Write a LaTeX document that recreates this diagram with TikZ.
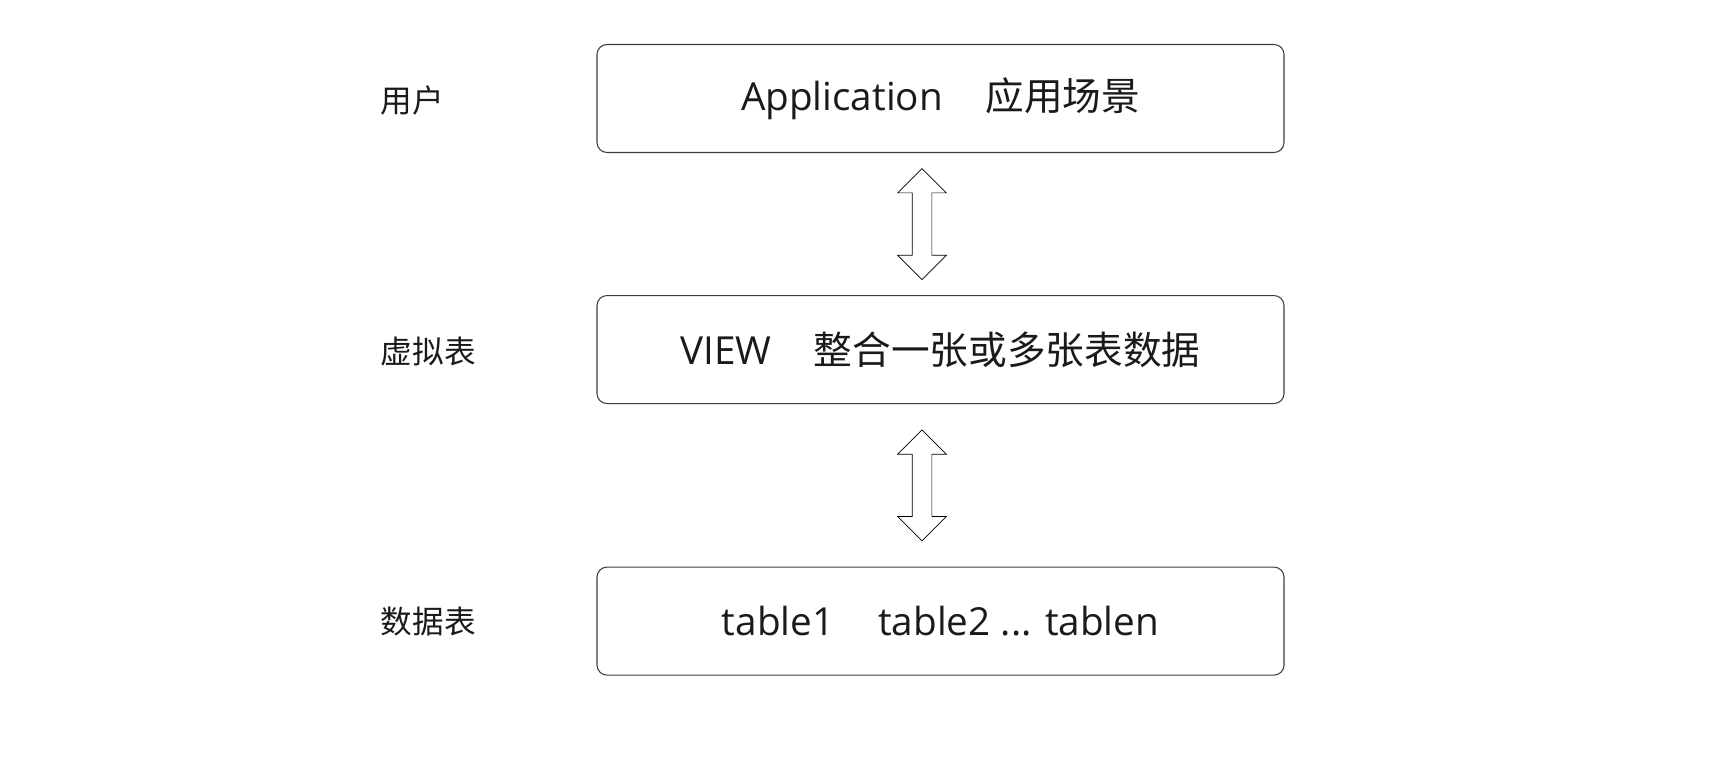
\documentclass[tikz,border=0pt]{standalone}
\usepackage{fontspec}
\setmainfont{Open Sans}
\newfontfamily\cjk{Noto Sans CJK SC}
\usetikzlibrary{positioning,calc,shapes.arrows}
\definecolor{FrameGray}{RGB}{60,60,60}
\definecolor{InkBlack}{RGB}{26,26,26}
\tikzset{
  layerbox/.style={draw=FrameGray,line width=0.6pt,rounded corners=5.7pt,
    minimum width=13.74cm,minimum height=2.16cm,inner sep=0pt,align=center,
    text=InkBlack,font=\fontsize{22}{26}\selectfont},
  sidelabel/.style={anchor=west,inner sep=0pt,text=InkBlack,
    font=\fontsize{18}{21}\selectfont\cjk},
  linkarrow/.style={double arrow,draw=black,line width=0.4pt,fill=white,
    minimum height=2.22cm,minimum width=0.96cm,inner sep=0.19cm,
    double arrow head extend=0.29cm,double arrow tip angle=90,rotate=90}
}

\begin{document}
\begin{tikzpicture}
  \useasboundingbox (0,0) rectangle (34.22,-15.28);

  % three layers
  \node[layerbox] (app) at (18.81,-1.97) {Application\hspace{0.85cm}{\cjk 应用场景}};
  \node[layerbox,below=2.84cm of app] (view) {VIEW\hspace{0.85cm}{\cjk 整合一张或多张表数据}};
  \node[layerbox,below=3.25cm of view] (tables) {table1\hspace{0.88cm}table2 ... tablen};

  \node[sidelabel] (user) at ([xshift=-4.32cm,yshift=-0.05cm]app.west) {用户};
  \node[sidelabel] (virtual) at ([xshift=-4.32cm,yshift=-0.03cm]view.west) {虚拟表};
  \node[sidelabel] (data) at ([xshift=-4.32cm]tables.west) {数据表};

  \node[linkarrow] (link1) at ($(app.south)!0.5!(view.north)+(-0.37,0)$) {};
  \node[linkarrow] (link2) at ($(view.south)!0.5!(tables.north)+(-0.37,0)$) {};
\end{tikzpicture}
\end{document}
